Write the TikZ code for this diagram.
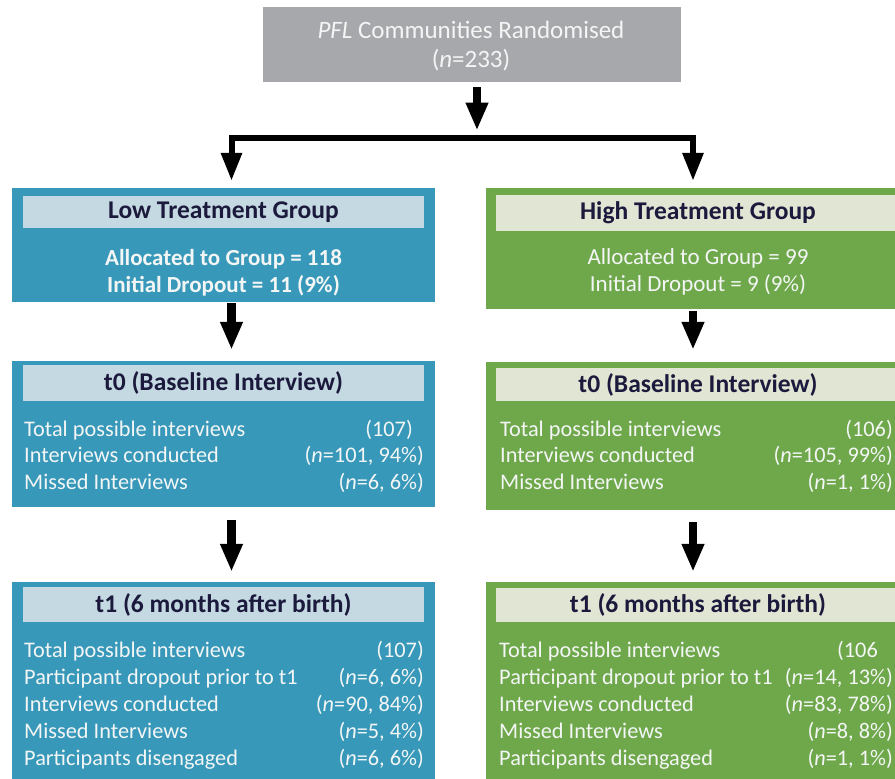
\documentclass[tikz,border=0pt]{standalone}
\usepackage{fontspec}
\setmainfont{Carlito}
\usepackage{tikz}
\usetikzlibrary{arrows.meta}
\definecolor{topgrey}{HTML}{A7A8AB}
\definecolor{lowblue}{HTML}{3798BA}
\definecolor{bluepale}{HTML}{C5D9E3}
\definecolor{highgreen}{HTML}{6FA84B}
\definecolor{greenpale}{HTML}{E0E5D4}
\definecolor{headink}{HTML}{1C1A3C}
\definecolor{paletext}{HTML}{F3F6F5}
\newcommand{\pfltop}{\fontsize{25}{29}\selectfont}
\newcommand{\pflhead}{\fontsize{25.5}{30}\selectfont\bfseries}
\newcommand{\pflbody}{\fontsize{22.3}{26}\selectfont}
\newcommand{\pflgroup}{\fontsize{23}{27}\selectfont}
\pgfdeclarelayer{edgelayer}
\pgfdeclarelayer{nodelayer}
\pgfsetlayers{edgelayer,nodelayer,main}
\tikzstyle{none}=[inner sep=0pt]
\tikzstyle{topbox}=[rectangle,fill=topgrey,draw=none,minimum width=418pt,minimum height=75pt,inner sep=0pt]
\tikzstyle{toptext}=[anchor=base,inner sep=0pt,text=paletext,font=\pfltop]
\tikzstyle{lowbox}=[rectangle,fill=lowblue,draw=none,minimum width=423pt,inner sep=0pt]
\tikzstyle{highbox}=[rectangle,fill=highgreen,draw=none,minimum width=424pt,inner sep=0pt]
\tikzstyle{lowhead}=[rectangle,fill=bluepale,draw=none,text=headink,minimum width=401pt,inner sep=0pt,font=\pflhead]
\tikzstyle{highhead}=[rectangle,fill=greenpale,draw=none,text=headink,minimum width=404pt,inner sep=0pt,font=\pflhead]
\tikzstyle{groupline}=[anchor=base,inner sep=0pt,text=paletext,font=\pflgroup]
\tikzstyle{groupbold}=[anchor=base,inner sep=0pt,text=paletext,font=\pflgroup\bfseries]
\tikzstyle{rowleft}=[anchor=base west,inner sep=0pt,text=paletext,font=\pflbody]
\tikzstyle{rowright}=[anchor=base east,inner sep=0pt,text=paletext,font=\pflbody]
\tikzstyle{inarrow}=[-{Triangle[length=28pt,width=21pt]},line width=8.5pt]
\tikzstyle{droparrow}=[-{Triangle[length=28pt,width=20pt]},line width=6pt,line join=miter,shorten >=7pt]

\begin{document}
\begin{tikzpicture}[x=1pt,y=-1pt]
	\useasboundingbox (0,0) rectangle (895,779);
	\begin{pgfonlayer}{nodelayer}
		\node [style=topbox] (0) at (472, 44.5) {};
		\node [style=toptext] (52) at (471, 38) {\textit{PFL} Communities Randomised};
		\node [style=toptext] (53) at (471, 67) {(\textit{n}=233)};
		% group boxes
		\node [style=lowbox, minimum height=114pt] (1) at (223.5, 245) {};
		\node [style=lowhead, minimum height=32pt] (2) at (223.5, 212) {Low Treatment Group};
		\node [style=groupbold] (3) at (223.5, 265) {Allocated to Group = 118};
		\node [style=groupbold] (4) at (223.5, 292) {Initial Dropout = 11 (9\%)};
		\node [style=highbox, minimum height=121pt] (5) at (698, 248.5) {};
		\node [style=highhead, minimum height=36pt] (6) at (698, 213) {High Treatment Group};
		\node [style=groupline] (7) at (698, 264) {Allocated to Group = 99};
		\node [style=groupline] (8) at (698, 291) {Initial Dropout = 9 (9\%)};
		% t0
		\node [style=lowbox, minimum height=146pt] (9) at (223.5, 434) {};
		\node [style=lowhead, minimum height=36pt] (10) at (223.5, 383) {t0 (Baseline Interview)};
		\node [style=rowleft] (11) at (24, 436) {Total possible interviews};
		\node [style=rowright] (12) at (413, 436) {(107)};
		\node [style=rowleft] (13) at (24, 462.5) {Interviews conducted};
		\node [style=rowright] (14) at (424, 462.5) {(\textit{n}=101, 94\%)};
		\node [style=rowleft] (15) at (24, 489) {Missed Interviews};
		\node [style=rowright] (16) at (424, 489) {(\textit{n}=6, 6\%)};
		\node [style=highbox, minimum height=148pt] (17) at (698, 436) {};
		\node [style=highhead, minimum height=33pt] (18) at (698, 384.5) {t0 (Baseline Interview)};
		\node [style=rowleft] (19) at (500, 436) {Total possible interviews};
		\node [style=rowright] (20) at (893, 436) {(106)};
		\node [style=rowleft] (21) at (500, 462.5) {Interviews conducted};
		\node [style=rowright] (22) at (893, 462.5) {(\textit{n}=105, 99\%)};
		\node [style=rowleft] (23) at (500, 489) {Missed Interviews};
		\node [style=rowright] (24) at (893, 489) {(\textit{n}=1, 1\%)};
		% t1
		\node [style=lowbox, minimum height=218pt] (25) at (223.5, 691) {};
		\node [style=lowhead, minimum height=35pt] (26) at (223.5, 604.5) {t1 (6 months after birth)};
		\node [style=rowleft] (27) at (24, 657) {Total possible interviews};
		\node [style=rowright] (28) at (424, 657) {(107)};
		\node [style=rowleft] (29) at (24, 684) {Participant dropout prior to t1};
		\node [style=rowright] (30) at (424, 684) {(\textit{n}=6, 6\%)};
		\node [style=rowleft] (31) at (24, 711) {Interviews conducted};
		\node [style=rowright] (32) at (424, 711) {(\textit{n}=90, 84\%)};
		\node [style=rowleft] (33) at (24, 738) {Missed Interviews};
		\node [style=rowright] (34) at (424, 738) {(\textit{n}=5, 4\%)};
		\node [style=rowleft] (35) at (24, 765) {Participants disengaged};
		\node [style=rowright] (36) at (424, 765) {(\textit{n}=6, 6\%)};
		\node [style=highbox, minimum height=218pt] (37) at (698, 691) {};
		\node [style=highhead, minimum height=34pt] (38) at (698, 605) {t1 (6 months after birth)};
		\node [style=rowleft] (39) at (499, 657) {Total possible interviews};
		\node [style=rowright] (40) at (878, 657) {(106};
		\node [style=rowleft] (41) at (499, 684) {Participant dropout prior to t1};
		\node [style=rowright] (42) at (893, 684) {(\textit{n}=14, 13\%)};
		\node [style=rowleft] (43) at (499, 711) {Interviews conducted};
		\node [style=rowright] (44) at (893, 711) {(\textit{n}=83, 78\%)};
		\node [style=rowleft] (45) at (499, 738) {Missed Interviews};
		\node [style=rowright] (46) at (893, 738) {(\textit{n}=8, 8\%)};
		\node [style=rowleft] (47) at (499, 765) {Participants disengaged};
		\node [style=rowright] (48) at (893, 765) {(\textit{n}=1, 1\%)};
		% junctions
		\node [style=none] (49) at (477, 137.5) {};
		\node [style=none] (50) at (231.5, 137.5) {};
		\node [style=none] (51) at (693, 137.5) {};
	\end{pgfonlayer}
	\begin{pgfonlayer}{edgelayer}
		\draw [style=inarrow, shorten <=5pt, shorten >=7pt] (0.south -| 49.center) to (49.center);
		\draw [style=droparrow] (49.center) -- (50.center) -- (1.north -| 50.center);
		\draw [style=droparrow] (49.center) -- (51.center) -- (5.north -| 51.center);
		\draw [style=inarrow, shorten <=1pt, shorten >=11pt] (1.south -| 50.center) to (9.north -| 50.center);
		\draw [style=inarrow, shorten <=2pt, shorten >=12pt] (5.south -| 51.center) to (17.north -| 51.center);
		\draw [style=inarrow, shorten <=13pt, shorten >=10pt] (9.south -| 50.center) to (25.north -| 50.center);
		\draw [style=inarrow, shorten <=12pt, shorten >=10pt] (17.south -| 51.center) to (37.north -| 51.center);
	\end{pgfonlayer}
\end{tikzpicture}
\end{document}
